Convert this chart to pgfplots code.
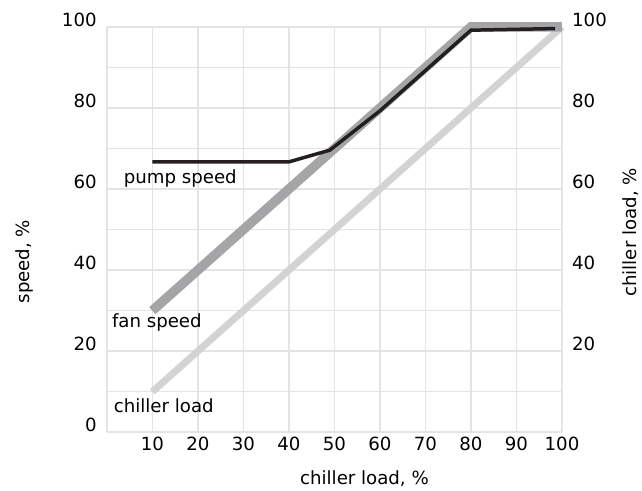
\documentclass[border=0pt]{standalone}
\usepackage{fontspec}
\setmainfont{DejaVu Sans}
\usepackage{pgfplots}
\pgfplotsset{compat=1.18}
\definecolor{gridc}{HTML}{E4E4E4}
\definecolor{pumpc}{HTML}{231F20}
\definecolor{fanc}{HTML}{A5A5A7}
\definecolor{chillc}{HTML}{D2D3D5}
\begin{document}
\begin{tikzpicture}[font=\fontsize{18.2bp}{22bp}\selectfont]
\begin{axis}[
  scale only axis, width=456bp, height=406bp,
  xmin=0, xmax=100, ymin=0, ymax=100,
  axis line style={draw=none},
  xtick={0,10,...,100}, xticklabels={,10,20,30,40,50,60,70,80,90,100},
  ytick={0,20,...,100}, minor ytick={10,30,...,90},
  grid=both,
  major grid style={gridc, line width=1.6bp},
  minor grid style={gridc, line width=1.6bp},
  major tick length=0pt, minor tick length=0pt,
  /pgf/number format/assume math mode=true,
  xticklabel style={inner sep=0pt, anchor=north, yshift=-5bp},
  yticklabel style={inner sep=0pt, anchor=east, xshift=-10bp, yshift=7bp},
  xlabel={chiller load, \%},
  xlabel style={at={(rel axis cs:0.566,0)}, anchor=center, yshift=-47bp},
  ylabel={speed, \%},
  ylabel style={at={(rel axis cs:-0.18,0.421)}, anchor=center},
  clip=false,
]
\addplot[chillc, line width=7bp] coordinates {(10,10) (100,100)};
\addplot[fanc, line width=9.5bp] coordinates {(10,30) (80,100) (100,100)};
\addplot[pumpc, line width=3.5bp] coordinates {(10,66.7) (40,66.7) (49,69.6) (60,79.3) (80,99.2) (98.5,99.6)};
\node[anchor=base west, inner sep=0pt] at (axis cs:3.7,61.3) {pump speed};
\node[anchor=base west, inner sep=0pt] at (axis cs:1.1,25.9) {fan speed};
\node[anchor=base west, inner sep=0pt] at (axis cs:1.5,4.9) {chiller load};
\end{axis}
\begin{axis}[
  scale only axis, width=456bp, height=406bp,
  xmin=0, xmax=100, ymin=0, ymax=100,
  axis x line=none,
  axis y line*=right,
  axis line style={draw=none},
  ytick={20,40,...,100},
  major tick length=0pt,
  /pgf/number format/assume math mode=true,
  yticklabel style={inner sep=0pt, anchor=west, xshift=10bp, yshift=7bp},
  ylabel={chiller load, \%},
  ylabel style={at={(rel axis cs:1.151,0.493)}, anchor=center, rotate=0},
]
\end{axis}
\path (current axis.south west) ++(-107bp,-58bp) coordinate (bbsw);
\path (current axis.north east) ++(79bp,27bp) coordinate (bbne);
\path (bbsw) rectangle (bbne);
\end{tikzpicture}
\end{document}
